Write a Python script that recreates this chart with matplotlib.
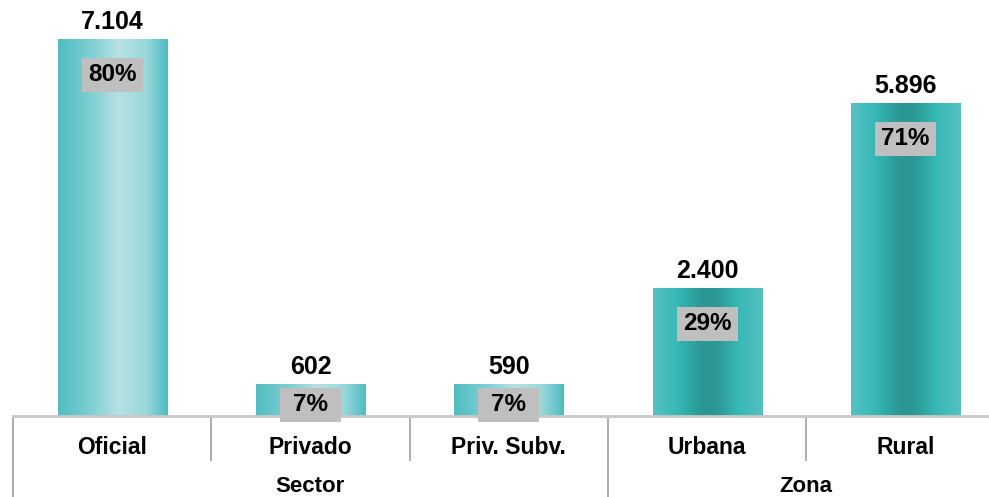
import numpy as np
import matplotlib
matplotlib.use("Agg")
import matplotlib.pyplot as plt
import matplotlib.colors as mcolors
from matplotlib.patches import Rectangle

plt.rcParams['font.family'] = ['Liberation Sans', 'DejaVu Sans']

# data
categories = ['Oficial', 'Privado', 'Priv. Subv.', 'Urbana', 'Rural']
values = [7104, 602, 590, 2400, 5896]
value_labels = ['7.104', '602', '590', '2.400', '5.896']
pct_labels = ['80%', '7%', '7%', '29%', '71%']
groups = ['Sector', 'Zona']
group_spans = [(0, 2), (3, 4)]

light_grad = ['#4fbdc2', '#7fcfd3', '#b7e1e4', '#9ad8db', '#4dbcc0']
light_pos = [0.0, 0.3, 0.55, 0.8, 1.0]
dark_grad = ['#57c1c3', '#36b8b6', '#2a9694', '#2a9896', '#38b8b6', '#55c0c2']
dark_pos = [0.0, 0.22, 0.45, 0.58, 0.78, 1.0]
bar_style = ['light', 'light', 'light', 'dark', 'dark']

W, H = 989, 497
fig = plt.figure(figsize=(W / 100, H / 100), dpi=100)
slot = 198.3
ax_h = 397
ax = fig.add_axes([13 / W, 81 / H, 5 * slot / W, ax_h / H])
ymax = 7500
ax.set_xlim(-0.5, 4.5)
ax.set_ylim(0, ymax)
px_per_unit = ax_h / ymax

x = np.arange(len(categories))
bars = ax.bar(x, values, width=0.55, color='none', zorder=2)


def make_cmap(colors, pos):
    return mcolors.LinearSegmentedColormap.from_list('g', list(zip(pos, colors)))


cmaps = {'light': make_cmap(light_grad, light_pos),
         'dark': make_cmap(dark_grad, dark_pos)}
grad = np.linspace(0, 1, 256).reshape(1, -1)

for b, style in zip(bars, bar_style):
    x0, w, h = b.get_x(), b.get_width(), b.get_height()
    ax.imshow(grad, cmap=cmaps[style], aspect='auto',
              extent=(x0, x0 + w, 0, h), zorder=2, interpolation='bilinear')

ax.set_xlim(-0.5, 4.5)
ax.set_ylim(0, ymax)

# value labels
for xi, v, lab in zip(x, values, value_labels):
    ax.annotate(lab, (xi, v), xytext=(0, 4), textcoords='offset points',
                ha='center', va='bottom', fontsize=18, fontweight='bold')

# percentage boxes
box_w = 61 / slot
box_h = 34 / px_per_unit
for xi, v, lab in zip(x, values, pct_labels):
    yc = max(v - 660, 210)
    ax.add_patch(Rectangle((xi - box_w / 2, yc - box_h / 2), box_w, box_h,
                           facecolor='#bfbfbf', edgecolor='none', zorder=3,
                           clip_on=False))
    ax.text(xi, yc, lab, ha='center', va='center', fontsize=17.5,
            fontweight='bold', zorder=4)

# axes styling
for s in ['top', 'right', 'left']:
    ax.spines[s].set_visible(False)
ax.spines['bottom'].set_color('#c8c8c8')
ax.spines['bottom'].set_linewidth(2)
ax.set_xticks([])
ax.set_yticks([])

trans = ax.get_xaxis_transform()
short = -44 / ax_h
full = -90 / ax_h
for b in np.arange(-0.5, 4.0, 1.0):
    is_full = b in (-0.5, 2.5)
    ax.plot([b, b], [0, full if is_full else short], transform=trans,
            color='#a6a6a6', lw=1.3, clip_on=False, zorder=1)

for xi, cat in zip(x, categories):
    ax.text(xi, -31 / ax_h, cat, transform=trans, ha='center', va='center',
            fontsize=16.5, fontweight='bold')

for g, (a, b) in zip(groups, group_spans):
    ax.text((a + b) / 2, -70 / ax_h, g, transform=trans, ha='center',
            va='center', fontsize=16, fontweight='bold')

fig.savefig('out.png', dpi=100)
